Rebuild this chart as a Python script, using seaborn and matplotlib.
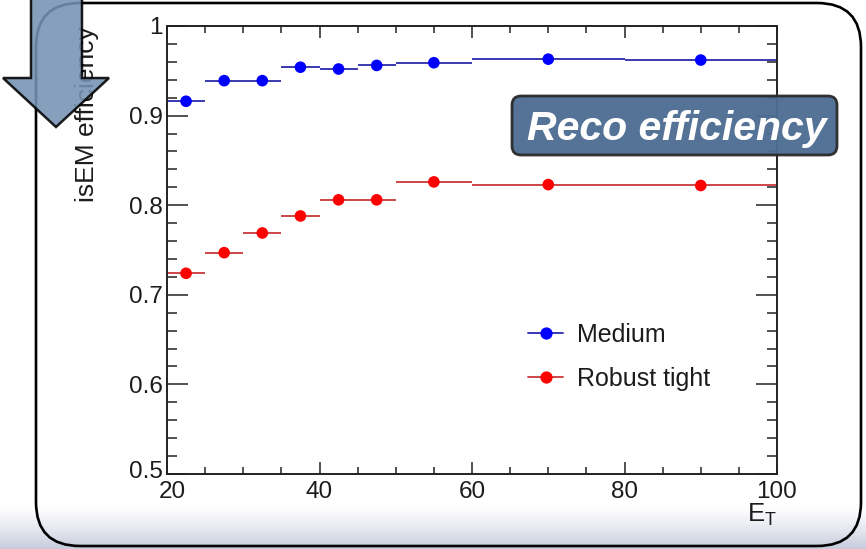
import numpy as np
import pandas as pd
import matplotlib
matplotlib.use("Agg")
import matplotlib.pyplot as plt
import seaborn as sns
from matplotlib.patches import FancyBboxPatch, Polygon
from matplotlib.lines import Line2D
from matplotlib.ticker import MultipleLocator, FixedLocator, FixedFormatter
from matplotlib.colors import LinearSegmentedColormap
from matplotlib.transforms import ScaledTranslation

# ---- data -------------------------------------------------------------
et_edges = [20, 25, 30, 35, 40, 45, 50, 60, 80, 100]
medium = [0.916, 0.939, 0.939, 0.954, 0.952, 0.956, 0.959, 0.963, 0.962]
robust_tight = [0.724, 0.747, 0.769, 0.788, 0.806, 0.806, 0.826, 0.823, 0.822]
series_names = ["Medium", "Robust tight"]
x_ticks = [20, 40, 60, 80, 100]
x_ticklabels = ["20", "40", "60", "80", "100"]
y_ticks = [0.5, 0.6, 0.7, 0.8, 0.9, 1.0]
y_ticklabels = ["0.5", "0.6", "0.7", "0.8", "0.9", "1"]

edges = np.asarray(et_edges, dtype=float)
centers = 0.5 * (edges[:-1] + edges[1:])
half_w = 0.5 * (edges[1:] - edges[:-1])

df = pd.DataFrame({
    "et": np.concatenate([centers, centers]),
    "half": np.concatenate([half_w, half_w]),
    "eff": medium + robust_tight,
    "wp": [series_names[0]] * len(medium) + [series_names[1]] * len(robust_tight),
})

marker_colors = {"Medium": "#0000ff", "Robust tight": "#ff0000"}
line_colors = {"Medium": "#2a2aa8", "Robust tight": "#c83838"}

# ---- style --------------------------------------------------------------
sns.set_theme(style="ticks")
plt.rcParams["font.family"] = ["Liberation Sans", "DejaVu Sans"]
plt.rcParams["mathtext.fontset"] = "custom"
plt.rcParams["mathtext.rm"] = "Liberation Sans"
plt.rcParams["mathtext.it"] = "Liberation Sans:italic"
text_color = "#1c1c1c"

W, H = 866, 549
fig = plt.figure(figsize=(W / 100, H / 100), dpi=100)
fig.patch.set_facecolor("white")

# background layer in pixel units: slide gradient + rounded frame
bg = fig.add_axes([0, 0, 1, 1], zorder=0)
bg.axis("off")
grad = np.linspace(0, 1, 64).reshape(-1, 1) ** 1.4
cmap = LinearSegmentedColormap.from_list("band", ["#ffffff", "#c7cbdc"])
bg.imshow(grad, extent=[0, W, 549, 503], aspect="auto", cmap=cmap,
          interpolation="bilinear")
bg.set_xlim(0, W)
bg.set_ylim(H, 0)
frame = FancyBboxPatch((36, 3), 825, 543,
                       boxstyle="round,pad=0,rounding_size=44",
                       fill=False, ec="black", lw=1.9)
bg.add_patch(frame)

# ---- main axes -----------------------------------------------------------
ax = fig.add_axes([167 / W, 1 - 474 / H, 610 / W, 448 / H], zorder=2)
ax.set_facecolor("white")

for name in series_names:
    sub = df[df["wp"] == name]
    ax.errorbar(sub["et"], sub["eff"], xerr=sub["half"], fmt="none",
                ecolor=line_colors[name], elinewidth=1.3, capsize=0, zorder=2)

sns.scatterplot(data=df, x="et", y="eff", hue="wp",
                palette=marker_colors, s=70, edgecolor="none",
                legend=False, ax=ax, zorder=3)

ax.set_xlim(20, 100)
ax.set_ylim(0.5, 1.0)
ax.xaxis.set_major_locator(FixedLocator(x_ticks))
ax.xaxis.set_major_formatter(FixedFormatter(x_ticklabels))
ax.xaxis.set_minor_locator(MultipleLocator(5))
ax.yaxis.set_major_locator(FixedLocator(y_ticks))
ax.yaxis.set_major_formatter(FixedFormatter(y_ticklabels))
ax.yaxis.set_minor_locator(MultipleLocator(0.02))

for sp in ax.spines.values():
    sp.set_visible(True)
    sp.set_color("#222222")
    sp.set_linewidth(1.4)

ax.tick_params(axis="both", which="both", direction="in", color="#222222",
               width=1.1, labelcolor=text_color)
ax.tick_params(axis="x", which="major", length=8.8, top=True, bottom=True,
               pad=5, labelsize=17.5)
ax.tick_params(axis="x", which="minor", length=5, top=True, bottom=True)
ax.tick_params(axis="y", which="major", length=15, left=True, right=True,
               pad=3, labelsize=17.5)
ax.tick_params(axis="y", which="minor", length=7.5, left=True, right=True)

# corner labels sit slightly apart, as in ROOT output
fig.canvas.draw()
ylab0 = ax.yaxis.get_major_ticks()[0].label1
ylab0.set_transform(ylab0.get_transform() + ScaledTranslation(0, 4 / 100, fig.dpi_scale_trans))
xlab0 = ax.xaxis.get_major_ticks()[0].label1
xlab0.set_transform(xlab0.get_transform() + ScaledTranslation(5 / 100, 0, fig.dpi_scale_trans))

ax.set_ylabel("isEM efficiency", loc="top", fontsize=19, color=text_color)
ax.yaxis.set_label_coords(-0.112, 1.0)
ax.set_xlabel(r"$\mathregular{E_T}$", loc="right", fontsize=18.5,
              color=text_color)
ax.xaxis.set_label_coords(1.0, -0.062)

handles = [Line2D([], [], color=line_colors[n], lw=1.3, marker="o",
                  markersize=7.8, markerfacecolor=marker_colors[n],
                  markeredgecolor=marker_colors[n]) for n in series_names]
leg = ax.legend(handles, series_names, loc="upper left",
                bbox_to_anchor=(0.592, 0.337), frameon=False, fontsize=18,
                handlelength=1.4, handletextpad=0.55, labelspacing=0.8,
                borderpad=0, borderaxespad=0)
for t in leg.get_texts():
    t.set_color(text_color)

# ---- overlay: arrow and caption box --------------------------------------
top = fig.add_axes([0, 0, 1, 1], zorder=5)
top.axis("off")
top.patch.set_alpha(0)
top.set_xlim(0, W)
top.set_ylim(H, 0)

arrow = Polygon([(31, -10), (82, -10), (82, 78), (109, 78), (56, 127),
                 (3, 78), (31, 78)], closed=True, fc="#7592b3", ec="black",
                lw=1.8, alpha=0.88, joinstyle="miter")
top.add_patch(arrow)

box = FancyBboxPatch((512, 96), 325, 59,
                     boxstyle="round,pad=0,rounding_size=9",
                     fc="#4d6d93", ec="#2b2b2b", lw=2.0, alpha=0.96)
top.add_patch(box)
top.text(677, 140, "Reco efficiency", ha="center", va="baseline",
         color="white", fontsize=29.5, fontweight="bold", fontstyle="italic")

fig.savefig("out.png", dpi=100)
